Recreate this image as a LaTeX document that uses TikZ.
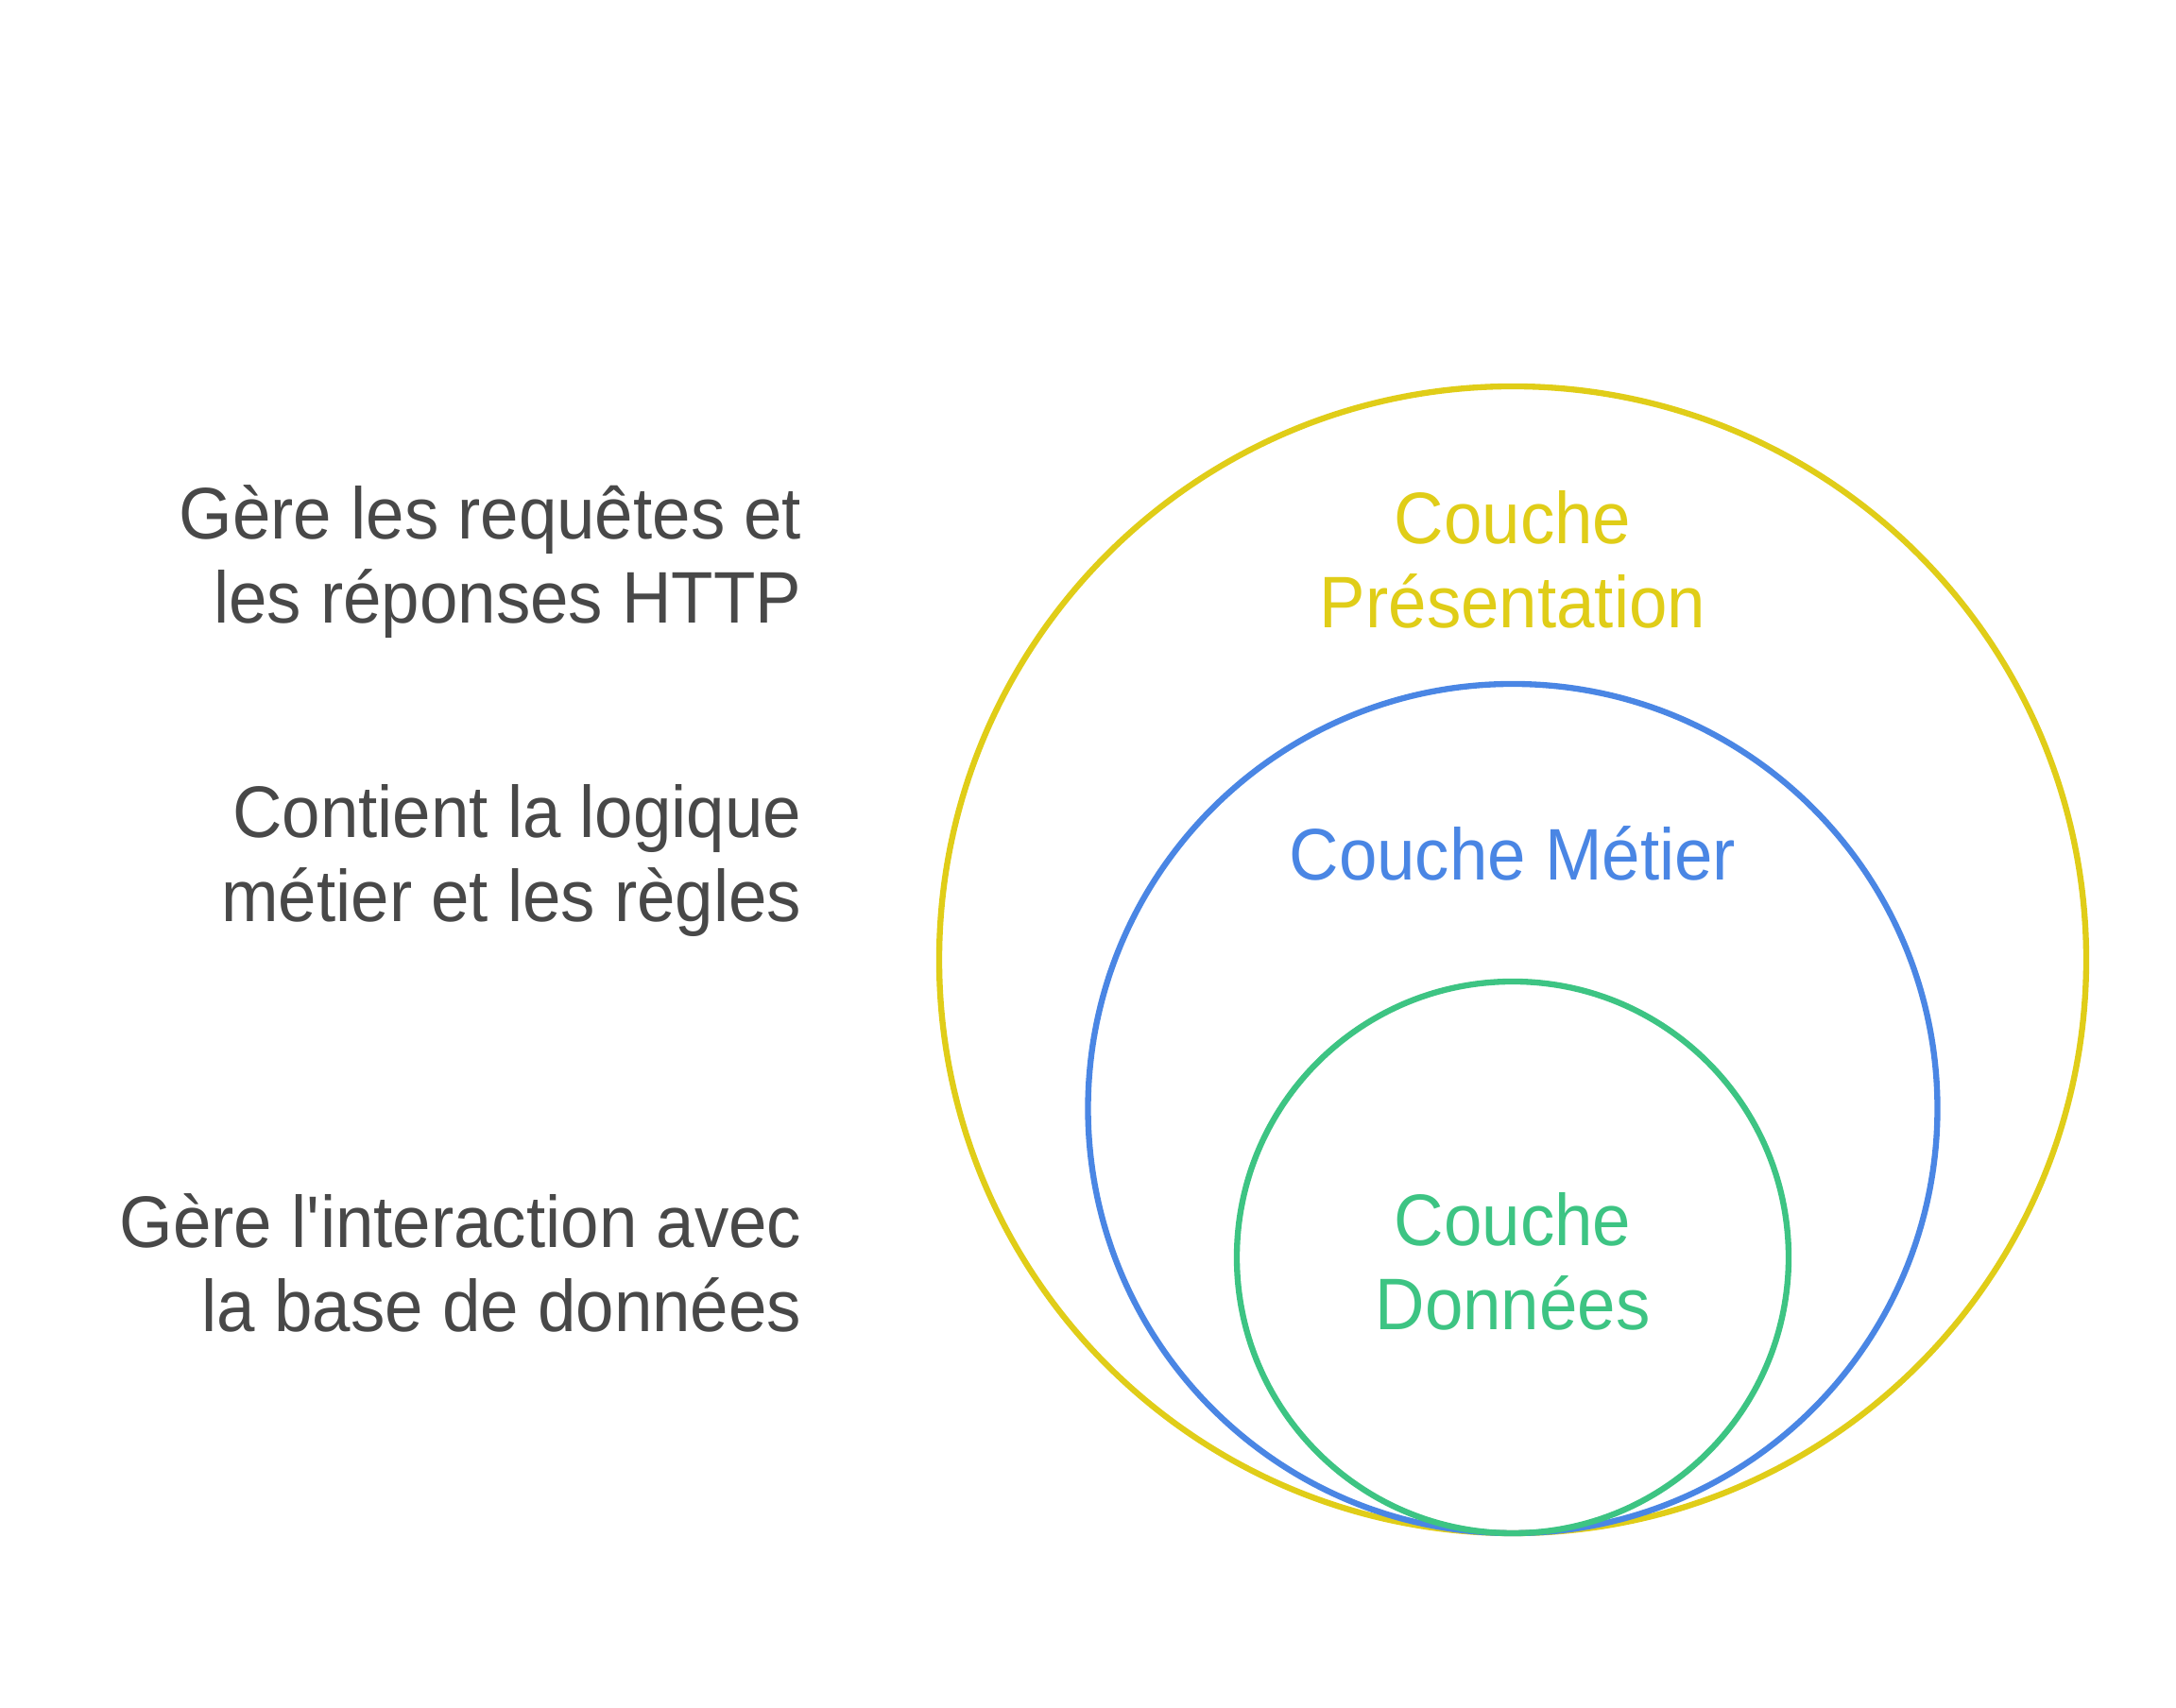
\documentclass[tikz,border=0pt]{standalone}
\usepackage{fontspec}
\setmainfont{Liberation Sans}[FakeStretch=0.94]
\definecolor{jaune}{RGB}{224,205,24}
\definecolor{bleu}{RGB}{74,134,228}
\definecolor{vert}{RGB}{61,196,131}
\definecolor{gristexte}{RGB}{72,72,72}
\begin{document}
\begin{tikzpicture}[
    layer/.style={line width=1.8pt},
    label/.style={font=\fontsize{22pt}{25.3pt}\selectfont, align=center, inner sep=0pt},
    desc/.style={font=\fontsize{22pt}{25.3pt}\selectfont, align=right, inner sep=0pt, anchor=east, text=gristexte}
]
    \useasboundingbox (0,0) rectangle (23.03,18.08);

    \draw[layer, jaune] (16.01,7.92) circle [radius=6.07];
    \draw[layer, bleu] (16.01,6.345) circle [radius=4.495];
    \draw[layer, vert] (16.01,4.77) circle [radius=2.92];

    \node[label, text=jaune] (presentation) at (16.01,12.16) {Couche\\Présentation};
    \node[label, text=bleu] (metier) at (16.01,9.05) {Couche Métier};
    \node[label, text=vert] (donnees) at (16.01,4.73) {Couche\\Données};

    \node[desc] (descpresentation) at (8.49,12.13) {Gère les requêtes et\\les réponses HTTP};
    \node[desc] (descmetier) at (8.49,8.97) {Contient la logique\\métier et les règles};
    \node[desc] (descdonnees) at (8.49,4.71) {Gère l\textquotesingle interaction avec\\la base de données};

\end{tikzpicture}
\end{document}
